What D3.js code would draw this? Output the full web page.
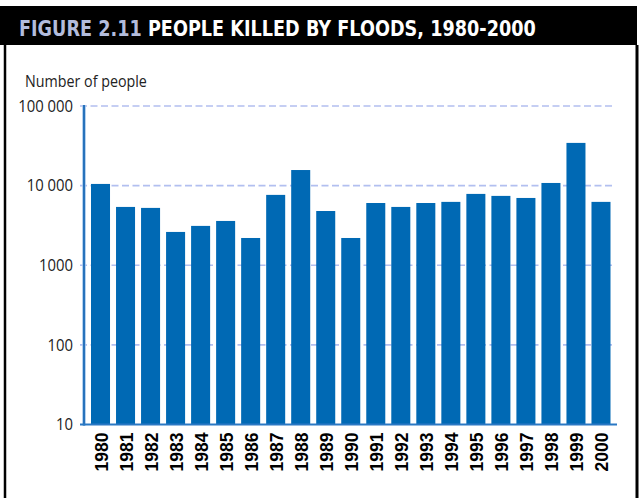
<!DOCTYPE html>
<html><head><meta charset="utf-8">
<script src="https://cdn.jsdelivr.net/npm/d3@7"></script>
<style>html,body{margin:0;padding:0;background:#fff;}svg{display:block;}</style>
</head><body>
<svg id="c" width="639" height="498"></svg>
<script>
const years = ["1980","1981","1982","1983","1984","1985","1986","1987","1988","1989","1990","1991","1992","1993","1994","1995","1996","1997","1998","1999","2000"];
const killed = [10500,5400,5250,2620,3120,3600,2200,7650,15700,4800,2200,6050,5400,6050,6250,7870,7430,7000,10800,34400,6250];
const tickValues = [10,100,1000,10000,100000];
const tickLabels = ["10","100","1000","10 000","100 000"];
const titleNum = "FIGURE 2.11";
const titleText = "PEOPLE KILLED BY FLOODS, 1980-2000";
const yLabel = "Number of people";

const svg = d3.select("#c");
const W = 639, H = 498;

// title band
svg.append("rect").attr("x",0).attr("y",6).attr("width",637).attr("height",39).attr("fill","#000");
const t = svg.append("text").attr("x",0).attr("y",0)
  .attr("font-family","'DejaVu Sans',sans-serif")
  .attr("font-weight","bold").attr("font-size",22);
t.append("tspan").attr("fill","#b3bcdc").text(titleNum);
t.append("tspan").attr("fill","#fff").text(" " + titleText);
const tw = t.node().getComputedTextLength();
t.attr("transform","translate(19,36) scale(" + (517/tw) + ",1)");

// frame
svg.append("line").attr("x1",5).attr("x2",5).attr("y1",45).attr("y2",H).attr("stroke","#000").attr("stroke-width",2.5);
svg.append("line").attr("x1",637).attr("x2",637).attr("y1",45).attr("y2",H).attr("stroke","#000").attr("stroke-width",3);

// scales
const y = d3.scaleLog().domain([10,100000]).range([424.5,106]);
const x = d3.scaleBand().domain(years).range([88.5,613]).paddingInner(0.24).paddingOuter(0.1);

// gridlines
svg.append("g").selectAll("line").data(tickValues.slice(1)).join("line")
  .attr("x1",80).attr("x2",613)
  .attr("y1",d=>y(d)).attr("y2",d=>y(d))
  .attr("stroke","#b2bff0").attr("stroke-width",1.6).attr("stroke-dasharray","7,3.5");

// y-axis labels
const yAxis = d3.axisLeft(y).tickValues(tickValues).tickFormat((d,i)=>tickLabels[i]).tickSize(0).tickPadding(11);
const ga = svg.append("g").attr("transform","translate(84,0)").call(yAxis);
ga.select(".domain").remove();
ga.selectAll("text").attr("font-family","'Open Sans',sans-serif").attr("font-size",16.5).attr("fill","#222")
  .each(function(){ const w = this.getComputedTextLength(); d3.select(this).attr("textLength", w*0.9).attr("lengthAdjust","spacingAndGlyphs"); });

// bars
svg.append("g").selectAll("rect").data(years).join("rect")
  .attr("x",d=>x(d)).attr("width",x.bandwidth())
  .attr("y",(d,i)=>y(killed[i])).attr("height",(d,i)=>y(10)-y(killed[i]))
  .attr("fill","#0069b4");

// axis lines
svg.append("line").attr("x1",84).attr("x2",84).attr("y1",105).attr("y2",425.5)
  .attr("stroke","#9ec3ea").attr("stroke-width",3.5);
svg.append("line").attr("x1",84).attr("x2",84).attr("y1",105).attr("y2",425.5)
  .attr("stroke","#0a5eb0").attr("stroke-width",1.6);
svg.append("line").attr("x1",80).attr("x2",617).attr("y1",y(10)).attr("y2",y(10))
  .attr("stroke","#2a78c4").attr("stroke-width",2);

// x labels
const xAxis = d3.axisBottom(x).tickSize(0);
const gx = svg.append("g").attr("transform","translate(0,"+y(10)+")").call(xAxis);
gx.select(".domain").remove();
gx.selectAll("text")
  .attr("font-family","'Liberation Sans',Arial,sans-serif").attr("font-weight","bold").attr("font-size",17.5).attr("fill","#000")
  .attr("text-anchor","end").attr("dy",null).attr("y",null)
  .attr("transform","translate(7,8) rotate(-90)");

// y label
const yl = svg.append("text").attr("x",0).attr("y",0).text(yLabel)
  .attr("font-family","'Open Sans',sans-serif").attr("font-size",16).attr("fill","#222");
const yw = yl.node().getComputedTextLength();
yl.attr("transform","translate(25,86.5) scale(" + (122/yw) + ",1)");
</script>
</body></html>
